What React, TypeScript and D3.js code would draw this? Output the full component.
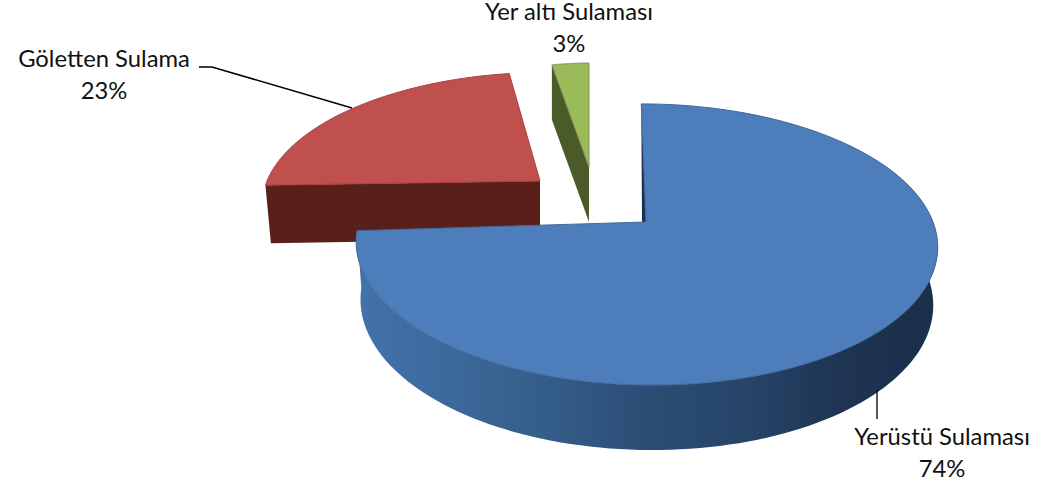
import React from "react";
import * as d3 from "d3";

const categories = ["Yerüstü Sulaması", "Göletten Sulama", "Yer altı Sulaması"];
const shares = [74, 23, 3];

const WIDTH = 1051;
const HEIGHT = 488;

// one projection per slice: exploded slices sit at their own place in the 3D view
const views = [
  { cx: 646, cy: 222, rx: 287, ry: 137, k: 0.16, rot: 0, s: 0.04, h: 58, d: 0.015, top: "#4d7ebb", edge: "#41699c" },
  { cx: 540, cy: 181, rx: 273, ry: 126, k: 0.16, rot: 0.03, s: -0.06, h: 59, d: 0.02, top: "#bf504d", edge: "#a8423f" },
  { cx: 589, cy: 167, rx: 198, ry: 104, k: 0.0, rot: 0.0, s: 0, h: 55, d: 0.0, top: "#9bbb59", edge: "#7d8f5a" },
];
const wallColors = ["#1d3250", "#591f1b", "#4a5a29"];

const pieArcs = d3.pie<number>().sort(null).value((v) => v).startAngle(0).endAngle(2 * Math.PI)(shares);

type V = (typeof views)[number];
const topPt = (v: V, a: number): [number, number] => {
  const ux = Math.sin(a);
  const uy = -Math.cos(a);
  const w = 1 - v.k * uy;
  return [v.cx + (v.rx * ux + v.s * v.ry * uy) / w, v.cy + (v.ry * uy) / w];
};
const botPt = (v: V, a: number): [number, number] => {
  const ux = Math.sin(a);
  const uy = -Math.cos(a);
  const w = 1 - v.k * uy + v.d;
  return [v.cx + (v.rx * ux + v.s * v.ry * uy) / w, v.cy + (v.ry * uy + v.h) / w];
};
const apexTop = (v: V): [number, number] => [v.cx, v.cy];
const apexBot = (v: V): [number, number] => [v.cx, v.cy + v.h / (1 + v.d)];

const line = d3.line<[number, number]>().curve(d3.curveLinear);
const angles = (a0: number, a1: number) => d3.range(0, 121).map((i) => a0 + ((a1 - a0) * i) / 120);

function slicePath(i: number) {
  const v = views[i];
  const a0 = pieArcs[i].startAngle + v.rot;
  const a1 = pieArcs[i].endAngle + v.rot;
  return line([apexTop(v), ...angles(a0, a1).map((a) => topPt(v, a))])! + "Z";
}

function wallPath(i: number) {
  const v = views[i];
  const a0 = pieArcs[i].startAngle + v.rot;
  return line([apexTop(v), topPt(v, a0), botPt(v, a0), apexBot(v)])! + "Z";
}

function blueSidePath() {
  const v = views[0];
  const a1 = pieArcs[0].endAngle + v.rot;
  const aa = angles(Math.PI / 3, a1);
  return line([...aa.map((a) => topPt(v, a)), ...aa.slice().reverse().map((a) => botPt(v, a))])! + "Z";
}

function blueSliver() {
  const v = views[0];
  const a0 = pieArcs[0].startAngle;
  return line([topPt(v, a0), apexTop(v), [v.cx - 4, v.cy]])! + "Z";
}

const sideStops: [number, string][] = [
  [0, "#4373aa"],
  [0.1, "#3f6da2"],
  [0.3, "#355f8c"],
  [0.5, "#2c4d74"],
  [0.68, "#264468"],
  [0.82, "#1f3553"],
  [1, "#1b2e4a"],
];

const labelFont = "Lato, Carlito, 'Open Sans', sans-serif";

export default function App() {
  return (
    <svg
      width={WIDTH}
      height={HEIGHT}
      viewBox={`0 0 ${WIDTH} ${HEIGHT}`}
      style={{ position: "fixed", left: 0, top: 0, display: "block", background: "#fff" }}
    >
      <defs>
        <linearGradient id="blueSide" gradientUnits="userSpaceOnUse" x1={357} y1={0} x2={938} y2={0}>
          {sideStops.map(([o, c]) => (
            <stop key={o} offset={o} stopColor={c} />
          ))}
        </linearGradient>
      </defs>

      {/* Göletten Sulama */}
      <path d={wallPath(1)} fill={wallColors[1]} />
      <path d={slicePath(1)} fill={views[1].top} stroke={views[1].edge} strokeWidth={1} />

      {/* Yer altı Sulaması */}
      <path d={wallPath(2)} fill={wallColors[2]} />
      <path d={slicePath(2)} fill={views[2].top} stroke={views[2].edge} strokeWidth={1} />

      {/* Yerüstü Sulaması */}
      <path d={blueSidePath()} fill="url(#blueSide)" />
      <path d={blueSliver()} fill={wallColors[0]} />
      <path d={slicePath(0)} fill={views[0].top} stroke={views[0].edge} strokeWidth={1} />

      {/* leader lines */}
      <path d="M352,108L212,67L199,67" fill="none" stroke="#000" strokeWidth={1.5} />
      <path d="M877,390L877,419" fill="none" stroke="#000" strokeWidth={1.3} />

      {/* labels */}
      <g fontFamily={labelFont} fontSize={23.8} fill="#111" textAnchor="middle">
        <text x={942} y={445}>{categories[0]}</text>
        <text x={942} y={477}>{shares[0]}%</text>
        <text x={104} y={67}>{categories[1]}</text>
        <text x={104} y={99}>{shares[1]}%</text>
        <text x={569} y={20}>{categories[2]}</text>
        <text x={569} y={52}>{shares[2]}%</text>
      </g>
    </svg>
  );
}
